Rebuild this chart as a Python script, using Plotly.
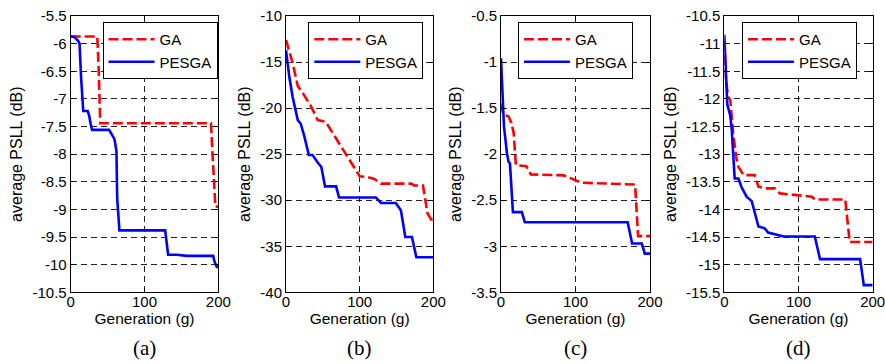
import plotly.graph_objects as go

# ---------------- data ----------------
# panel (a)
ga_x_a = [0, 36, 38, 40, 190, 192, 196, 200]
ga_y_a = [-5.87, -5.87, -6.5, -7.44, -7.44, -8.0, -8.95, -8.95]
pe_x_a = [0, 5, 10, 12, 14, 16, 17, 23, 25, 27, 29, 52, 55, 59, 60, 62, 63, 66,
          128, 130, 132, 144, 157, 193, 195, 198, 200]
pe_y_a = [-5.87, -5.88, -5.95, -6.0, -6.6, -7.1, -7.22, -7.22, -7.3, -7.45, -7.56,
          -7.56, -7.62, -7.72, -7.78, -7.95, -8.8, -9.38, -9.38, -9.6, -9.82, -9.82,
          -9.84, -9.84, -9.95, -10.04, -10.04]

# panel (b)
ga_x_b = [0, 9, 16, 23, 34, 43, 54, 61, 72, 86, 95, 100, 111, 120, 129, 170, 174,
          186, 192, 197, 200]
ga_y_b = [-12.6, -15.1, -17.6, -18.4, -19.8, -21.3, -21.5, -22.4, -23.8, -25.6,
          -26.9, -27.4, -27.5, -27.7, -28.2, -28.2, -28.4, -28.4, -31.4, -32.1, -32.1]
pe_x_b = [0, 4.5, 9, 16, 20, 25, 31, 36, 43, 48, 53, 68, 72, 122, 129, 149, 156,
          162, 171, 177, 200]
pe_y_b = [-13.7, -16.6, -18.8, -21.3, -21.7, -23.1, -25.1, -25.1, -25.9, -26.4,
          -28.5, -28.5, -29.7, -29.7, -30.3, -30.3, -31.1, -34.0, -34.0, -36.2, -36.2]

# panel (c)
ga_x_c = [0, 3, 10, 14, 17, 20, 34, 40, 84, 97, 108, 180, 184, 200]
ga_y_c = [-1.45, -1.57, -1.59, -1.66, -1.77, -2.12, -2.13, -2.22, -2.23, -2.27,
          -2.31, -2.33, -2.89, -2.89]
pe_x_c = [0, 4, 8, 10, 12, 16, 28, 32, 170, 176, 189, 193, 200]
pe_y_c = [-0.96, -1.70, -1.99, -2.08, -2.10, -2.63, -2.63, -2.74, -2.74, -2.97,
          -2.97, -3.08, -3.08]

# panel (d)
ga_x_d = [0, 2, 5, 8, 12, 16, 19, 26, 41, 46, 55, 68, 75, 93, 118, 122, 163, 169, 200]
ga_y_d = [-10.95, -11.6, -11.96, -12.02, -12.62, -13.05, -13.23, -13.38, -13.38,
          -13.59, -13.62, -13.62, -13.71, -13.74, -13.77, -13.82, -13.82, -14.59, -14.59]
pe_x_d = [0, 2, 4, 8, 10, 14, 19, 23, 30, 37, 41, 46, 52, 55, 59, 71, 80, 122, 129,
          183, 188, 200]
pe_y_d = [-10.84, -11.42, -12.1, -12.3, -12.55, -13.44, -13.44, -13.59, -13.77,
          -13.85, -14.07, -14.31, -14.33, -14.35, -14.42, -14.46, -14.49, -14.49,
          -14.9, -14.9, -15.37, -15.37]

panel_labels = ["(a)", "(b)", "(c)", "(d)"]
y_ranges = [[-10.5, -5.5], [-40, -10], [-3.5, -0.5], [-15.5, -10.5]]
y_tickvals_a = [-10.5, -10, -9.5, -9, -8.5, -8, -7.5, -7, -6.5, -6, -5.5]
y_tickvals_b = [-40, -35, -30, -25, -20, -15, -10]
y_tickvals_c = [-3.5, -3, -2.5, -2, -1.5, -1, -0.5]
y_tickvals_d = [-15.5, -15, -14.5, -14, -13.5, -13, -12.5, -12, -11.5, -11, -10.5]
x_ticks = [0, 100, 200]
series_names = ["GA", "PESGA"]
x_title = "Generation (g)"
y_title = "average PSLL (dB)"

ga_x = [ga_x_a, ga_x_b, ga_x_c, ga_x_d]
ga_y = [ga_y_a, ga_y_b, ga_y_c, ga_y_d]
pe_x = [pe_x_a, pe_x_b, pe_x_c, pe_x_d]
pe_y = [pe_y_a, pe_y_b, pe_y_c, pe_y_d]
y_tickvals = [y_tickvals_a, y_tickvals_b, y_tickvals_c, y_tickvals_d]


def fmt(v):
    # MATLAB-style labels with a plain hyphen-minus
    return "%g" % v


# ---------------- layout geometry ----------------
W, H = 885, 364
plot_left = [70.7, 286.0, 501.0, 724.3]
plot_right = [218.3, 433.3, 650.0, 872.7]
plot_top, plot_bottom = 16.0, 292.3
legend_right = [217.5, 423.3, 633.0, 857.0]
legend_top = 22.0

FONT = "Arial, Liberation Sans, sans-serif"
fig = go.Figure()

for i in range(4):
    sfx = "" if i == 0 else str(i + 1)
    lg = "legend" if i == 0 else f"legend{i + 1}"
    fig.add_trace(go.Scatter(
        x=ga_x[i], y=ga_y[i], mode="lines", name=series_names[0],
        line=dict(color="#FF0000", width=2.6, dash="10px,4px"),
        xaxis="x" + sfx, yaxis="y" + sfx, legend=lg))
    fig.add_trace(go.Scatter(
        x=pe_x[i], y=pe_y[i], mode="lines", name=series_names[1],
        line=dict(color="#0000FF", width=2.6),
        xaxis="x" + sfx, yaxis="y" + sfx, legend=lg))

layout = dict(
    width=W, height=H,
    margin=dict(l=0, r=0, t=0, b=0, pad=0, autoexpand=False),
    paper_bgcolor="white", plot_bgcolor="white",
    font=dict(family=FONT, size=15, color="black"),
    showlegend=True,
)

axis_common = dict(
    showline=True, linecolor="black", linewidth=1, mirror="ticks",
    ticks="inside", ticklen=4, tickcolor="black", tickwidth=1,
    showgrid=True, gridcolor="#222222", gridwidth=1, griddash="6px,4px",
    zeroline=False, automargin=False, ticklabeloverflow="allow",
    tickfont=dict(family=FONT, size=15, color="black"),
)

annotations = []
for i in range(4):
    sfx = "" if i == 0 else str(i + 1)
    dom_x = [plot_left[i] / W, plot_right[i] / W]
    dom_y = [1 - plot_bottom / H, 1 - plot_top / H]
    layout["xaxis" + sfx] = dict(
        axis_common, domain=dom_x, range=[0, 200], tickvals=x_ticks,
        ticktext=[fmt(v) for v in x_ticks], anchor="y" + sfx,
        ticklabelstandoff=-4,
        title=dict(text=x_title, font=dict(family=FONT, size=15.5), standoff=1),
    )
    layout["yaxis" + sfx] = dict(
        axis_common, domain=dom_y, range=y_ranges[i], tickvals=y_tickvals[i],
        ticktext=[fmt(v) for v in y_tickvals[i]], anchor="x" + sfx,
        title=dict(text=y_title, font=dict(family=FONT, size=16), standoff=5),
    )
    lg = "legend" if i == 0 else f"legend{i + 1}"
    layout[lg] = dict(
        x=legend_right[i] / W, y=1 - legend_top / H, xanchor="right", yanchor="top",
        bgcolor="white", bordercolor="black", borderwidth=1, itemwidth=46,
        font=dict(family=FONT, size=15, color="black"), tracegroupgap=0,
    )
    annotations.append(dict(
        text=panel_labels[i], xref="paper", yref="paper",
        x=(plot_left[i] + plot_right[i]) / 2 / W, y=1 - 348 / H,
        xanchor="center", yanchor="middle", showarrow=False,
        font=dict(family="Times New Roman, Liberation Serif, serif", size=21, color="black"),
    ))
layout["annotations"] = annotations

fig.update_layout(**layout)
fig.write_html(
    "out.html",
    config={"displayModeBar": False},
    post_script="document.body.style.margin='0px';document.body.style.overflow='hidden';",
)
